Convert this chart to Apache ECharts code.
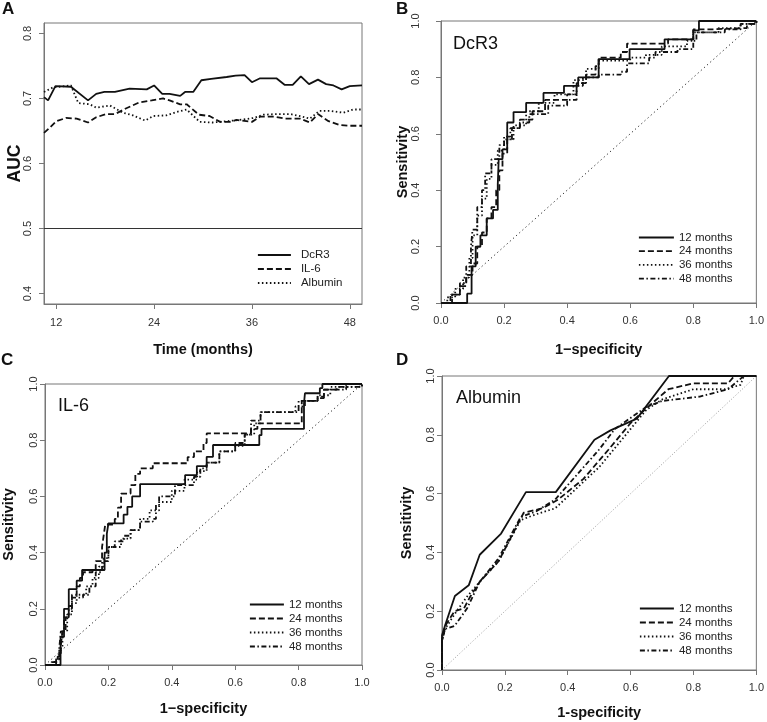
<!DOCTYPE html>
<html>
<head>
<meta charset="utf-8">
<script src="https://cdn.jsdelivr.net/npm/echarts@6/dist/echarts.min.js"></script>
<style>
html,body{margin:0;padding:0;background:#fff;}
#chart{width:767px;height:722px;}
</style>
</head>
<body>
<div id="chart"></div>
<script>
// ---------- Panel A: time-dependent AUC ----------
const aucTicksX = [12, 24, 36, 48];
const aucTicksY = [0.4, 0.5, 0.6, 0.7, 0.8];
const aucNames = ['DcR3', 'IL-6', 'Albumin'];
const aucDcR3 = [[10.5,0.702],[11.0,0.697],[11.9,0.719],[13.8,0.718],[15.9,0.697],[16.9,0.707],[17.9,0.710],[19.2,0.710],[21.0,0.715],[23.1,0.714],[24.0,0.720],[25.0,0.707],[25.9,0.707],[27.2,0.704],[27.8,0.710],[28.8,0.710],[29.8,0.728],[31.0,0.730],[32.9,0.733],[34.0,0.735],[35.1,0.736],[36.0,0.725],[37.0,0.731],[39.0,0.731],[40.0,0.721],[41.0,0.721],[42.0,0.734],[43.0,0.722],[44.1,0.729],[45.1,0.722],[46.0,0.720],[47.0,0.714],[48.0,0.719],[49.5,0.720]];
const aucIL6 = [[10.5,0.647],[11.2,0.655],[12.0,0.665],[13.2,0.670],[14.5,0.669],[15.9,0.663],[16.9,0.671],[18.1,0.676],[19.2,0.676],[20.6,0.685],[22.2,0.694],[23.7,0.697],[25.1,0.700],[25.9,0.697],[27.2,0.691],[28.0,0.691],[29.5,0.675],[30.8,0.673],[32.1,0.664],[33.3,0.664],[34.1,0.667],[36.0,0.664],[37.0,0.672],[38.8,0.672],[40.1,0.669],[41.9,0.669],[43.1,0.663],[44.1,0.676],[45.4,0.665],[46.8,0.659],[48.0,0.658],[49.5,0.658]];
const aucAlbumin = [[10.5,0.710],[11.6,0.717],[13.8,0.720],[14.7,0.693],[16.1,0.691],[16.9,0.686],[18.6,0.689],[20.2,0.678],[21.4,0.674],[22.9,0.666],[23.9,0.673],[25.5,0.674],[26.7,0.679],[28.0,0.683],[29.6,0.664],[31.2,0.663],[32.9,0.665],[34.5,0.667],[36.2,0.670],[37.4,0.675],[39.0,0.676],[40.7,0.676],[41.9,0.673],[43.1,0.669],[44.3,0.681],[45.6,0.681],[47.2,0.678],[48.4,0.683],[49.5,0.683]];
const aucReference = 0.5;

// ---------- ROC panels ----------
const rocNames = ['12 months', '24 months', '36 months', '48 months'];
const diagonal = [[0,0],[1,1]];

// Panel B: DcR3 (step curves: [fpr at jump, new sensitivity])
const dcr3_12 = [[0,0],[0.083,0.033],[0.097,0.13],[0.11,0.20],[0.125,0.24],[0.145,0.30],[0.165,0.33],[0.18,0.42],[0.183,0.51],[0.195,0.545],[0.21,0.64],[0.23,0.677],[0.27,0.71],[0.325,0.745],[0.39,0.77],[0.435,0.80],[0.5,0.865],[0.598,0.90],[0.709,0.935],[0.80,0.967],[0.818,1.0],[1,1]];
const dcr3_24 = [[0,0],[0.035,0.03],[0.06,0.06],[0.08,0.1],[0.1,0.14],[0.115,0.2],[0.13,0.25],[0.145,0.3],[0.16,0.34],[0.175,0.4],[0.185,0.47],[0.195,0.53],[0.21,0.58],[0.225,0.62],[0.25,0.65],[0.29,0.68],[0.33,0.72],[0.4,0.74],[0.43,0.78],[0.46,0.81],[0.49,0.84],[0.5,0.87],[0.57,0.89],[0.59,0.92],[0.7,0.92],[0.72,0.935],[0.79,0.935],[0.8,0.97],[0.85,0.975],[0.97,0.99],[1,1]];
const dcr3_36 = [[0,0],[0.02,0.02],[0.045,0.05],[0.07,0.09],[0.09,0.16],[0.1,0.24],[0.115,0.31],[0.13,0.37],[0.145,0.44],[0.16,0.49],[0.18,0.54],[0.2,0.58],[0.23,0.63],[0.27,0.68],[0.31,0.71],[0.36,0.74],[0.42,0.79],[0.46,0.83],[0.5,0.86],[0.6,0.87],[0.65,0.88],[0.7,0.91],[0.78,0.93],[0.8,0.96],[0.88,0.975],[0.95,0.99],[1,1]];
const dcr3_48 = [[0,0],[0.03,0.03],[0.06,0.07],[0.08,0.13],[0.095,0.2],[0.1,0.26],[0.115,0.34],[0.13,0.4],[0.14,0.46],[0.16,0.51],[0.185,0.56],[0.2,0.59],[0.22,0.62],[0.25,0.64],[0.28,0.67],[0.34,0.7],[0.4,0.72],[0.43,0.77],[0.45,0.8],[0.5,0.81],[0.57,0.82],[0.59,0.85],[0.66,0.87],[0.68,0.89],[0.75,0.9],[0.8,0.93],[0.81,0.96],[0.9,0.97],[0.95,0.99],[1,1]];

// Panel C: IL-6
const il6_12 = [[0,0],[0.049,0.1],[0.06,0.2],[0.075,0.27],[0.1,0.30],[0.117,0.338],[0.188,0.40],[0.195,0.467],[0.2,0.504],[0.248,0.535],[0.26,0.563],[0.275,0.6],[0.30,0.644],[0.442,0.676],[0.479,0.708],[0.51,0.741],[0.53,0.783],[0.676,0.818],[0.683,0.84],[0.817,0.93],[0.82,0.967],[0.867,0.985],[0.875,1.0],[1,1]];
const il6_24 = [[0,0],[0.02,0.01],[0.04,0.03],[0.05,0.07],[0.055,0.12],[0.065,0.17],[0.075,0.21],[0.085,0.25],[0.1,0.28],[0.11,0.31],[0.12,0.33],[0.15,0.34],[0.16,0.37],[0.18,0.42],[0.185,0.46],[0.19,0.5],[0.22,0.52],[0.23,0.56],[0.24,0.61],[0.27,0.64],[0.285,0.68],[0.3,0.7],[0.34,0.718],[0.45,0.74],[0.47,0.76],[0.5,0.79],[0.51,0.824],[0.65,0.84],[0.67,0.86],[0.81,0.94],[0.86,0.955],[0.88,0.98],[0.92,0.99],[0.95,1],[1,1]];
const il6_36 = [[0,0],[0.03,0.02],[0.045,0.06],[0.055,0.12],[0.07,0.18],[0.085,0.22],[0.1,0.25],[0.13,0.28],[0.15,0.31],[0.17,0.35],[0.185,0.38],[0.2,0.42],[0.24,0.45],[0.27,0.48],[0.3,0.52],[0.33,0.55],[0.36,0.58],[0.4,0.62],[0.44,0.66],[0.48,0.69],[0.51,0.72],[0.55,0.76],[0.6,0.78],[0.63,0.82],[0.66,0.86],[0.68,0.9],[0.79,0.92],[0.8,0.94],[0.86,0.96],[0.9,0.99],[1,1]];
const il6_48 = [[0,0],[0.035,0.02],[0.045,0.06],[0.05,0.12],[0.06,0.17],[0.075,0.2],[0.085,0.24],[0.12,0.25],[0.14,0.28],[0.16,0.33],[0.18,0.37],[0.2,0.42],[0.22,0.44],[0.25,0.46],[0.27,0.48],[0.3,0.51],[0.34,0.52],[0.35,0.57],[0.36,0.6],[0.41,0.64],[0.47,0.67],[0.49,0.7],[0.51,0.72],[0.55,0.76],[0.6,0.79],[0.63,0.82],[0.65,0.87],[0.68,0.9],[0.8,0.92],[0.82,0.94],[0.86,0.95],[0.88,0.98],[0.95,0.99],[1,1]];

// Panel D: Albumin (piecewise linear)
const alb_12 = [[0,0],[0,0.118],[0.01,0.152],[0.041,0.252],[0.085,0.288],[0.12,0.392],[0.188,0.464],[0.267,0.605],[0.362,0.605],[0.485,0.783],[0.536,0.815],[0.62,0.855],[0.722,1.0],[1,1]];
const alb_24 = [[0,0],[0,0.1],[0.01,0.15],[0.04,0.2],[0.07,0.21],[0.09,0.25],[0.12,0.3],[0.18,0.37],[0.26,0.535],[0.32,0.55],[0.37,0.58],[0.45,0.65],[0.53,0.75],[0.6,0.84],[0.65,0.89],[0.72,0.955],[0.8,0.975],[0.91,0.975],[0.93,1.0],[1,1]];
const alb_36 = [[0,0],[0,0.1],[0.01,0.14],[0.04,0.19],[0.08,0.25],[0.12,0.3],[0.18,0.37],[0.25,0.51],[0.3,0.53],[0.36,0.55],[0.45,0.64],[0.5,0.69],[0.6,0.82],[0.65,0.885],[0.7,0.92],[0.8,0.955],[0.9,0.955],[0.95,0.97],[0.96,1],[1,1]];
const alb_48 = [[0,0],[0,0.1],[0.01,0.14],[0.04,0.15],[0.08,0.21],[0.12,0.3],[0.18,0.38],[0.25,0.52],[0.3,0.54],[0.36,0.58],[0.5,0.75],[0.55,0.82],[0.65,0.895],[0.7,0.915],[0.82,0.93],[0.91,0.955],[0.96,1.0],[1,1]];

// ---------- styles ----------
const FONT = 'Liberation Sans, Arial, Helvetica, sans-serif';
const INK = '#111';
const FRAME = '#777';
const DASH = {
  solid: 'solid',
  dashed: [6, 3],
  dotted: [1.5, 2.5],
  dotdash: [5, 2.5, 1.5, 2.5]
};
const styleOrder = [DASH.solid, DASH.dashed, DASH.dotted, DASH.dotdash];

const grids = [
  {left: 44, top: 23, width: 318, height: 281},
  {left: 441, top: 21, width: 317, height: 282},
  {left: 44, top: 384, width: 318, height: 281},
  {left: 442, top: 376, width: 316, height: 294}
].map(g => Object.assign({show: true, borderColor: FRAME, borderWidth: 1, backgroundColor: 'transparent', containLabel: false}, g));

function baseAxis(extra) {
  return Object.assign({
    type: 'value',
    axisLine: {show: true, onZero: false, lineStyle: {color: FRAME, width: 1}},
    axisTick: {show: true, inside: false, length: 5, lineStyle: {color: FRAME}},
    splitLine: {show: false},
    axisLabel: {color: '#333', fontSize: 11, fontFamily: FONT},
    nameTextStyle: {color: INK, fontSize: 14.5, fontWeight: 'bold', fontFamily: FONT},
    nameLocation: 'middle',
    nameMoveOverlap: false
  }, extra);
}

const fmt1 = v => Number(v).toFixed(1);

const xAxes = [
  baseAxis({gridIndex: 0, min: 10.5, max: 49.5, name: 'Time (months)', nameGap: 38,
    axisLabel: {color: '#333', fontSize: 11, fontFamily: FONT, margin: 13, customValues: aucTicksX},
    axisTick: {show: true, length: 5, lineStyle: {color: FRAME}, customValues: aucTicksX}}),
  baseAxis({gridIndex: 1, min: 0, max: 1, interval: 0.2, name: '1\u2212specificity', nameGap: 39,
    axisLabel: {color: '#333', fontSize: 11, fontFamily: FONT, margin: 12, formatter: fmt1}}),
  baseAxis({gridIndex: 2, min: 0, max: 1, interval: 0.2, name: '1\u2212specificity', nameGap: 36,
    axisLabel: {color: '#333', fontSize: 11, fontFamily: FONT, margin: 12, formatter: fmt1}}),
  baseAxis({gridIndex: 3, min: 0, max: 1, interval: 0.2, name: '1-specificity', nameGap: 35,
    axisLabel: {color: '#333', fontSize: 11, fontFamily: FONT, margin: 12, formatter: fmt1}})
];

const yLabel = extra => Object.assign({color: '#333', fontSize: 11, fontFamily: FONT, rotate: 90, margin: 12, formatter: fmt1}, extra || {});

const yAxes = [
  baseAxis({gridIndex: 0, min: 0.384, max: 0.816, name: 'AUC', nameGap: 20, nameRotate: 90,
    nameTextStyle: {color: INK, fontSize: 17.5, fontWeight: 'bold', fontFamily: FONT},
    axisLabel: yLabel({customValues: aucTicksY, margin: 11}),
    axisTick: {show: true, length: 5, lineStyle: {color: FRAME}, customValues: aucTicksY}}),
  baseAxis({gridIndex: 1, min: 0, max: 1, interval: 0.2, name: 'Sensitivity', nameGap: 31, nameRotate: 90, axisLabel: yLabel({margin: 20})}),
  baseAxis({gridIndex: 2, min: 0, max: 1, interval: 0.2, name: 'Sensitivity', nameGap: 29, nameRotate: 90, axisLabel: yLabel({margin: 6})}),
  baseAxis({gridIndex: 3, min: 0, max: 1, interval: 0.2, name: 'Sensitivity', nameGap: 28, nameRotate: 90, axisLabel: yLabel({margin: 6})})
];

function curve(name, data, idx, dash, step) {
  return {
    type: 'line', name: name, data: data, xAxisIndex: idx, yAxisIndex: idx,
    symbol: 'none', showSymbol: false, step: step || false, silent: true,
    lineStyle: {color: INK, width: 1.8, type: dash, cap: 'butt'},
    itemStyle: {color: INK}, z: 3
  };
}

const series = [];
// Panel A
series.push(Object.assign(curve(aucNames[0], aucDcR3, 0, DASH.solid), {
  markLine: {silent: true, symbol: 'none', label: {show: false},
    lineStyle: {color: '#333', width: 1, type: 'solid'}, data: [{yAxis: aucReference}]}
}));
series.push(curve(aucNames[1], aucIL6, 0, DASH.dashed));
series.push(curve(aucNames[2], aucAlbumin, 0, DASH.dotted));

// ROC panels
const rocSets = [
  {idx: 1, curves: [dcr3_12, dcr3_24, dcr3_36, dcr3_48], step: 'end', diagColor: '#222', diagDash: [1.2, 3]},
  {idx: 2, curves: [il6_12, il6_24, il6_36, il6_48], step: 'end', diagColor: '#222', diagDash: [1.2, 3]},
  {idx: 3, curves: [alb_12, alb_24, alb_36, alb_48], step: false, diagColor: '#999', diagDash: [1, 2]}
];
rocSets.forEach(set => {
  series.push({
    type: 'line', name: 'diagonal', data: diagonal, xAxisIndex: set.idx, yAxisIndex: set.idx,
    symbol: 'none', silent: true, z: 2,
    lineStyle: {color: set.diagColor, width: 1, type: set.diagDash}
  });
  set.curves.forEach((d, i) => series.push(curve(rocNames[i], d, set.idx, styleOrder[i], set.step)));
});

const legendText = {color: '#222', fontSize: 11.5, fontFamily: FONT};
const legends = [
  {data: aucNames, left: 257, top: 249, itemWidth: 33, itemHeight: 12, itemGap: 2,
   textStyle: Object.assign({padding: [0, 0, 0, 5]}, legendText)},
  {data: rocNames, left: 638, top: 231.5, itemWidth: 35, itemHeight: 11, itemGap: 1.7, textStyle: legendText},
  {data: rocNames, left: 249, top: 598.5, itemWidth: 34, itemHeight: 11, itemGap: 2, textStyle: legendText},
  {data: rocNames, left: 639, top: 602.5, itemWidth: 34, itemHeight: 11, itemGap: 2, textStyle: legendText}
].map(l => Object.assign({
  orient: 'vertical', padding: 0, selectedMode: false, backgroundColor: 'transparent',
  itemStyle: {color: 'rgba(0,0,0,0)', borderColor: 'rgba(0,0,0,0)', borderWidth: 0, opacity: 0},
  lineStyle: {color: INK, width: 1.8}
}, l));

const panelLetters = [
  {text: 'A', left: 2, top: 1},
  {text: 'B', left: 396, top: 1},
  {text: 'C', left: 1, top: 352},
  {text: 'D', left: 396, top: 352}
];
const panelTitles = [
  {text: 'DcR3', left: 453, top: 35},
  {text: 'IL-6', left: 58, top: 397},
  {text: 'Albumin', left: 456, top: 389}
];

const graphic = [];
panelLetters.forEach(p => graphic.push({type: 'text', left: p.left, top: p.top, silent: true,
  style: {text: p.text, fill: INK, font: 'bold 17px ' + FONT}}));
panelTitles.forEach(p => graphic.push({type: 'text', left: p.left, top: p.top, silent: true,
  style: {text: p.text, fill: INK, font: '18px ' + FONT}}));

const chart = echarts.init(document.getElementById('chart'), null, {renderer: 'canvas'});
chart.setOption({
  animation: false,
  backgroundColor: '#fff',
  textStyle: {fontFamily: FONT},
  grid: grids,
  xAxis: xAxes,
  yAxis: yAxes,
  legend: legends,
  graphic: graphic,
  series: series
});
</script>
</body>
</html>
